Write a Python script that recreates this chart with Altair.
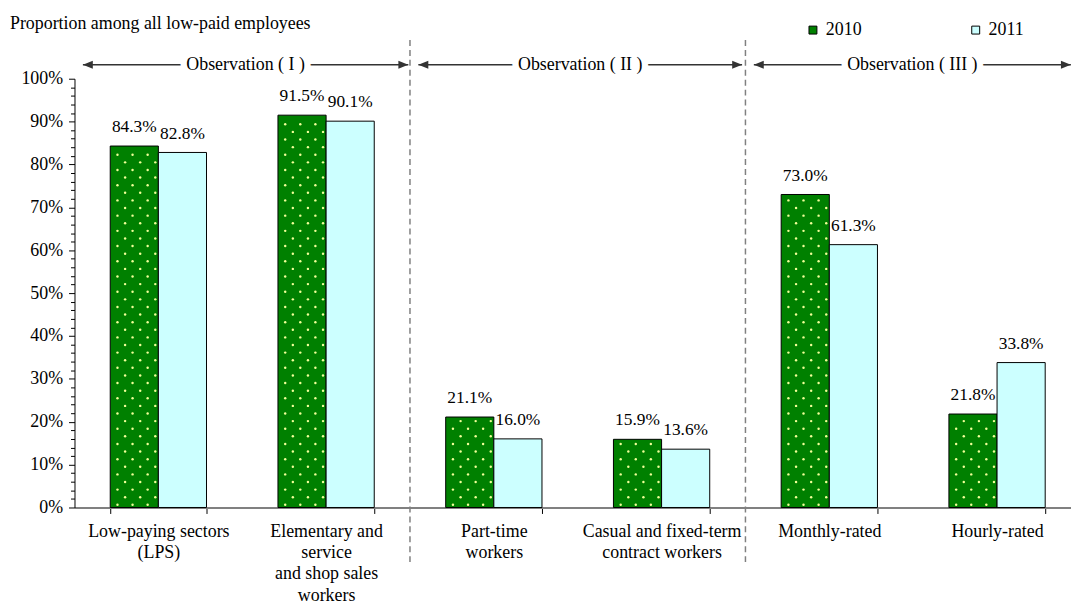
import altair as alt
import pandas as pd

# ---------------- data ----------------
categories = [
    "Low-paying sectors|(LPS)",
    "Elementary and|service|and shop sales|workers",
    "Part-time|workers",
    "Casual and fixed-term|contract workers",
    "Monthly-rated",
    "Hourly-rated",
]
years = ["2010", "2011"]
values_2010 = [84.3, 91.5, 21.1, 15.9, 73.0, 21.8]
values_2011 = [82.8, 90.1, 16.0, 13.6, 61.3, 33.8]

obs_labels = ["Observation ( I )", "Observation ( II )", "Observation ( III )"]
obs_start = [0.05, 2.05, 4.05]      # in units of category steps
obs_end = [1.99, 3.98, 5.94]
divider_positions = [2, 4]           # boundaries between observation groups
subtitle = "Proportion among all low-paid employees"

# ---------------- tables ----------------
rows = []
for i, c in enumerate(categories):
    for y, vals in zip(years, [values_2010, values_2011]):
        rows.append(dict(cat=c, idx=i, year=y, value=vals[i] / 100.0,
                         label=f"{vals[i]:.1f}%"))
df = pd.DataFrame(rows)
obs_df = pd.DataFrame({"text": obs_labels, "start": obs_start, "end": obs_end})
div_df = pd.DataFrame({"pos": divider_positions})
sub_df = pd.DataFrame({"t": [subtitle]})

FONT = "Liberation Serif"
N = len(categories)
W_RANGE = 1014
STEP = W_RANGE / N
P_IN = 0.426
P_OUT = P_IN / 2
W, H = 1004, 432

# ---------------- main bars ----------------
x_band = alt.X(
    "cat:N", sort=categories, title=None,
    scale=alt.Scale(range=[0, W_RANGE], paddingInner=P_IN, paddingOuter=P_OUT),
    axis=alt.Axis(
        labelExpr="split(datum.label, '|')", labelFont=FONT, labelFontSize=18,
        labelLineHeight=21.5, labelAngle=0, labelAlign="center", labelBaseline="top",
        labelColor="black", labelLimit=400, labelOverlap=False, labelPadding=9,
        tickBand="extent", tickSize=6, tickColor="black", tickWidth=1,
        domainColor="#808080", domainWidth=2, grid=False,
    ),
)
x_off = alt.XOffset("year:N", sort=years, scale=alt.Scale(paddingInner=0, paddingOuter=0))
y_scale = alt.Scale(domain=[0, 1], nice=False)
y_axis = alt.Axis(
    values=[k / 50 for k in range(51)], format=".0%",
    labelExpr="round(datum.value*100) % 10 == 0 ? datum.label : ''",
    labelFont=FONT, labelFontSize=18, labelColor="black", labelOverlap=False,
    labelPadding=6,
    tickSize={"condition": {"test": "round(datum.value*100) % 10 == 0", "value": 6}, "value": 4},
    tickColor="black", domainColor="black", domainWidth=1, grid=False,
)
color = alt.Color(
    "year:N",
    scale=alt.Scale(domain=years, range=["#008000", "#CCFFFF"]),
    legend=alt.Legend(
        title=None, orient="none", legendX=735, legendY=-58, direction="horizontal",
        symbolType="square", symbolSize=64, symbolStrokeColor="black",
        symbolStrokeWidth=1, symbolOpacity=1, labelFont=FONT, labelFontSize=18,
        labelColor="black", columnPadding=106, padding=0, labelOffset=4,
    ),
)

base = alt.Chart(df)
bars = base.mark_bar(stroke="black", strokeWidth=1).encode(
    x=x_band, xOffset=x_off,
    y=alt.Y("value:Q", title=None, scale=y_scale, axis=y_axis),
    color=color,
)
labels = base.mark_text(baseline="bottom", dy=-10, font=FONT, fontSize=17.5,
                        color="black").encode(
    x=alt.X("cat:N", sort=categories), xOffset=alt.XOffset("year:N", sort=years),
    y=alt.Y("value:Q", title=None, scale=y_scale, axis=y_axis), text="label:N",
)
main = alt.layer(bars, labels)

# ---------------- annotations (quantitative x in category-step units) ----------------
xq_scale = alt.Scale(domain=[0, N], range=[0, W_RANGE], nice=False, zero=False)

dots = (
    base.transform_filter("datum.year == '2010'")
    .transform_calculate(r="sequence(0, floor((datum.value*100 - 1.0)/1.775) + 1)")
    .transform_flatten(["r"])
    .transform_calculate(c="[0, 1, 2]")
    .transform_flatten(["c"])
    .transform_calculate(
        xp=f"datum.idx + {P_OUT} + ((datum.r % 2 == 0 ? 7.3 : 15) + datum.c*15.2)/{STEP}",
        value="(0.62 + datum.r*1.775)/100",
    )
    .mark_circle(size=6, color="#f2ff99", opacity=1)
    .encode(
        x=alt.X("xp:Q", scale=xq_scale, axis=None),
        y=alt.Y("value:Q", title=None, scale=y_scale, axis=y_axis),
    )
)

dividers = alt.Chart(div_df).mark_rule(color="#808080", strokeDash=[6, 4], strokeWidth=1.5).encode(
    x=alt.X("pos:Q", scale=xq_scale, axis=None), y=alt.value(-39), y2=alt.value(489)
)

obs = alt.Chart(obs_df)
arrow_lines = obs.mark_rule(color="#333333", strokeWidth=1.5).encode(
    x=alt.X("start:Q", scale=xq_scale, axis=None), x2="end:Q", y=alt.value(-14)
)
head_r = obs.mark_point(shape="M0,0L-1,-0.4L-1,0.4Z", filled=True, size=400,
                        color="#333333", opacity=1).encode(
    x=alt.X("end:Q", scale=xq_scale, axis=None), y=alt.value(-14)
)
head_l = obs.mark_point(shape="M0,0L1,-0.4L1,0.4Z", filled=True, size=400,
                        color="#333333", opacity=1).encode(
    x=alt.X("start:Q", scale=xq_scale, axis=None), y=alt.value(-14)
)
obs_mid = obs.transform_calculate(mid="(datum.start + datum.end)/2")
obs_halo = obs_mid.mark_text(font=FONT, fontSize=18, baseline="middle", align="center",
                             color="white", stroke="white", strokeWidth=13).encode(
    x=alt.X("mid:Q", scale=xq_scale, axis=None), y=alt.value(-14), text="text:N"
)
obs_text = obs_mid.mark_text(font=FONT, fontSize=18, baseline="middle", align="center",
                             color="black").encode(
    x=alt.X("mid:Q", scale=xq_scale, axis=None), y=alt.value(-14), text="text:N"
)
sub = alt.Chart(sub_df).mark_text(font=FONT, fontSize=18, align="left", baseline="middle",
                                  color="black").encode(
    x=alt.value(-65), y=alt.value(-55), text="t:N"
)

ann = alt.layer(dots, dividers, arrow_lines, head_r, head_l, obs_halo, obs_text, sub)

chart = (
    alt.layer(main, ann)
    .resolve_scale(x="independent")
    .properties(
        width=W, height=H,
        autosize=alt.AutoSizeParams(type="none"),
        padding={"left": 67, "top": 69, "right": 0, "bottom": 97},
        background="white",
    )
    .configure_view(stroke=None)
)

chart.save("out.html", embed_options={"renderer": "svg", "actions": False})
